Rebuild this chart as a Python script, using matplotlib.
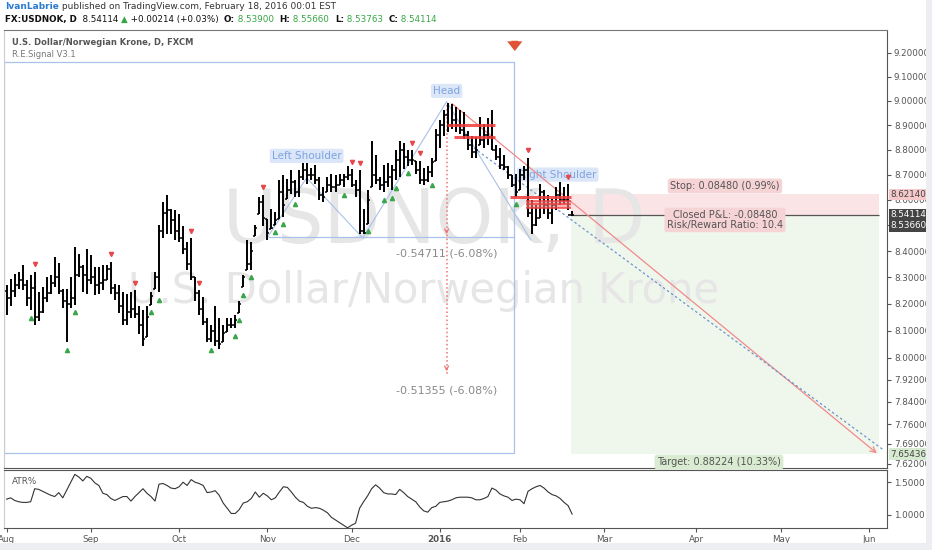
import numpy as np
import pandas as pd
import matplotlib
matplotlib.use('Agg')
import matplotlib.pyplot as plt
from matplotlib.patches import Rectangle
from matplotlib.ticker import FixedLocator, NullLocator, FuncFormatter, NullFormatter

# daily USDNOK bars, Aug 3 2015 .. Feb 18 2016
highs = [8.270, 8.294, 8.313, 8.321, 8.348, 8.290, 8.309, 8.321, 8.243, 8.263,
         8.302, 8.309, 8.379, 8.356, 8.255, 8.255, 8.302, 8.418, 8.391, 8.348,
         8.410, 8.387, 8.340, 8.340, 8.348, 8.348, 8.360, 8.274, 8.270, 8.243,
         8.236, 8.243, 8.251, 8.193, 8.177, 8.193, 8.243, 8.321, 8.503, 8.593,
         8.620, 8.565, 8.562, 8.546, 8.496, 8.437, 8.449, 8.302, 8.251, 8.224,
         8.146, 8.119, 8.193, 8.146, 8.119, 8.146, 8.146, 8.158, 8.212, 8.309,
         8.445, 8.437, 8.503, 8.612, 8.620, 8.523, 8.565, 8.554, 8.678, 8.697,
         8.682, 8.717, 8.678, 8.717, 8.748, 8.748, 8.728, 8.740, 8.690, 8.651,
         8.690, 8.701, 8.697, 8.701, 8.701, 8.736, 8.721, 8.678, 8.717, 8.565,
         8.639, 8.833, 8.779, 8.690, 8.740, 8.748, 8.740, 8.798, 8.837, 8.825,
         8.798, 8.798, 8.756, 8.756, 8.728, 8.736, 8.767, 8.884, 8.922, 8.961,
         8.992, 8.988, 8.973, 8.961, 8.953, 8.876, 8.856, 8.853, 8.934, 8.903,
         8.930, 8.961, 8.818, 8.806, 8.779, 8.736, 8.697, 8.701, 8.721, 8.736,
         8.767, 8.600, 8.581, 8.662, 8.639, 8.620, 8.604, 8.651, 8.670, 8.651,
         8.662, 8.5566]
lows = [8.158, 8.193, 8.224, 8.255, 8.251, 8.193, 8.177, 8.119, 8.135, 8.166,
        8.205, 8.236, 8.263, 8.236, 8.185, 8.057, 8.185, 8.197, 8.302, 8.243,
        8.236, 8.274, 8.232, 8.236, 8.251, 8.290, 8.236, 8.216, 8.166, 8.119,
        8.119, 8.146, 8.146, 8.088, 8.042, 8.077, 8.197, 8.255, 8.243, 8.449,
        8.468, 8.465, 8.445, 8.437, 8.391, 8.329, 8.290, 8.212, 8.158, 8.119,
        8.057, 8.057, 8.042, 8.030, 8.057, 8.096, 8.108, 8.108, 8.166, 8.263,
        8.329, 8.329, 8.457, 8.546, 8.496, 8.445, 8.484, 8.503, 8.523, 8.534,
        8.604, 8.624, 8.612, 8.612, 8.678, 8.662, 8.678, 8.662, 8.600, 8.593,
        8.631, 8.631, 8.631, 8.659, 8.651, 8.678, 8.651, 8.612, 8.468, 8.465,
        8.507, 8.651, 8.662, 8.639, 8.631, 8.651, 8.639, 8.678, 8.690, 8.721,
        8.736, 8.740, 8.701, 8.662, 8.659, 8.670, 8.690, 8.756, 8.806, 8.856,
        8.872, 8.884, 8.872, 8.864, 8.845, 8.798, 8.767, 8.767, 8.818, 8.806,
        8.818, 8.798, 8.759, 8.721, 8.717, 8.682, 8.651, 8.612, 8.639, 8.678,
        8.534, 8.465, 8.496, 8.527, 8.546, 8.523, 8.507, 8.562, 8.581, 8.585,
        8.562, 8.5376]
closes = [8.22, 8.25, 8.27, 8.29, 8.27, 8.22, 8.26, 8.15, 8.17, 8.22,
          8.24, 8.28, 8.30, 8.25, 8.21, 8.20, 8.22, 8.31, 8.34, 8.31,
          8.29, 8.30, 8.27, 8.28, 8.29, 8.33, 8.26, 8.24, 8.19, 8.14,
          8.17, 8.18, 8.16, 8.12, 8.07, 8.15, 8.23, 8.30, 8.48, 8.55,
          8.56, 8.52, 8.48, 8.45, 8.41, 8.35, 8.30, 8.24, 8.18, 8.13,
          8.07, 8.10, 8.06, 8.05, 8.09, 8.12, 8.12, 8.14, 8.20, 8.30,
          8.35, 8.40, 8.49, 8.59, 8.53, 8.47, 8.49, 8.52, 8.63, 8.58,
          8.64, 8.67, 8.63, 8.69, 8.72, 8.70, 8.70, 8.68, 8.62, 8.61,
          8.66, 8.65, 8.66, 8.68, 8.69, 8.70, 8.66, 8.64, 8.48, 8.47,
          8.60, 8.70, 8.68, 8.66, 8.67, 8.69, 8.72, 8.76, 8.80, 8.77,
          8.76, 8.76, 8.72, 8.68, 8.68, 8.71, 8.75, 8.86, 8.90, 8.94,
          8.90, 8.92, 8.90, 8.88, 8.86, 8.82, 8.79, 8.80, 8.84, 8.86,
          8.85, 8.80, 8.77, 8.74, 8.73, 8.70, 8.66, 8.63, 8.70, 8.72,
          8.55, 8.50, 8.53, 8.63, 8.58, 8.55, 8.58, 8.62, 8.60, 8.60,
          8.539, 8.54114]
first_open = 8.25

atr = [1.24, 1.26, 1.22, 1.20, 1.19, 1.19, 1.20, 1.40, 1.39, 1.36,
       1.33, 1.30, 1.28, 1.34, 1.26, 1.38, 1.50, 1.62, 1.58, 1.52,
       1.59, 1.56, 1.49, 1.45, 1.33, 1.31, 1.25, 1.22, 1.25, 1.28,
       1.28, 1.21, 1.28, 1.34, 1.40, 1.33, 1.28, 1.21, 1.47, 1.48,
       1.45, 1.41, 1.40, 1.43, 1.50, 1.45, 1.54, 1.50, 1.48, 1.45,
       1.34, 1.35, 1.37, 1.30, 1.18, 1.10, 1.02, 1.02, 1.08, 1.18,
       1.20, 1.25, 1.35, 1.27, 1.33, 1.29, 1.23, 1.26, 1.35, 1.43,
       1.42, 1.35, 1.27, 1.21, 1.19, 1.13, 1.10, 1.11, 1.10, 1.07,
       1.03, 0.96, 0.92, 0.88, 0.84, 0.80, 0.84, 0.87, 1.10, 1.20,
       1.29, 1.40, 1.46, 1.41, 1.34, 1.32, 1.32, 1.31, 1.39, 1.34,
       1.28, 1.24, 1.20, 1.12, 1.06, 1.04, 1.11, 1.13, 1.19, 1.20,
       1.21, 1.23, 1.26, 1.27, 1.27, 1.27, 1.26, 1.23, 1.23, 1.25,
       1.28, 1.41, 1.38, 1.32, 1.29, 1.27, 1.22, 1.24, 1.23, 1.17,
       1.36, 1.40, 1.43, 1.45, 1.41, 1.35, 1.31, 1.29, 1.25, 1.19,
       1.14, 1.01]

sell_signals = [7, 26, 32, 46, 48, 64, 86, 88, 101, 103, 130, 140]
buy_signals = [6, 15, 17, 36, 38, 51, 57, 58, 59, 61, 67, 69, 72, 84, 90, 94,
               96, 97, 100, 106, 127]

price_ticks = [9.2, 9.1, 9.0, 8.9, 8.8, 8.7, 8.6, 8.5, 8.4, 8.3, 8.2, 8.1, 8.0,
               7.92, 7.84, 7.76, 7.69, 7.62]
atr_ticks = [1.0, 1.5]

# drawings on the chart (bar index, price)
pattern_x = [65.1, 74.8, 88.8, 109.7, 130.7]
pattern_y = [8.455, 8.687, 8.451, 8.996, 8.443]
neckline = 8.455
box_right, box_top, box_bottom = 126.4, 9.161, 7.658
head_x = 109.7
entry, stop, target = 8.54114, 8.62140, 7.65436
pos_left, pos_right = 140.6, 217.5

# calendar: business days without Christmas / New Year
days = pd.bdate_range('2015-08-03', '2016-06-30')
days = days[~days.isin(pd.to_datetime(['2015-12-25', '2016-01-01']))]
n = len(highs)
x = np.arange(n)
opens = np.clip([first_open] + closes[:-1], lows, highs)

month_idx, month_lab = [], []
prev = None
for i, d in enumerate(days):
    if d.month != prev:
        month_idx.append(i)
        month_lab.append('2016' if (d.month == 1) else d.strftime('%b'))
        prev = d.month

W, H = 932, 550
x0, x1 = -0.65, 219.5
fig = plt.figure(figsize=(W / 100, H / 100), dpi=100)
fig.patch.set_facecolor('white')
fig.add_artist(Rectangle((0, 0), 1, 7 / H, transform=fig.transFigure,
                         fc='#eceef1', ec='none'))
fig.add_artist(Rectangle((926 / W, 0), 6 / W, 1, transform=fig.transFigure,
                         fc='#eceef1', ec='none'))

ax = fig.add_axes([4 / W, 1 - 468 / H, 883 / W, 438 / H])
ax.set_yscale('log')
ax.set_xlim(x0, x1)
ax.set_ylim(7.6056, 9.296)

# position tool
ax.add_patch(Rectangle((pos_left, entry), pos_right - pos_left, stop - entry,
                       fc='#fbe4e5', ec='none', zorder=0.2))
ax.add_patch(Rectangle((pos_left, target), pos_right - pos_left, entry - target,
                       fc='#eff6ec', ec='none', zorder=0.2))
ax.hlines(entry, pos_left, pos_right, color='#555555', lw=0.9, zorder=1)
ax.text(179.1, 8.6547, 'Stop: 0.08480 (0.99%)', fontsize=7, color='#555555',
        ha='center', va='center', zorder=6,
        bbox=dict(boxstyle='round,pad=0.25', fc='#f6d3d4', ec='none'))
ax.text(179.1, 8.521, 'Closed P&L: -0.08480\nRisk/Reward Ratio: 10.4', fontsize=7,
        color='#555555', ha='center', va='center', linespacing=0.95, zorder=6,
        bbox=dict(boxstyle='round,pad=0.25', fc='#f6d3d4', ec='none'))
ax.text(177.6, 7.6264, 'Target: 0.88224 (10.33%)', fontsize=7, color='#555555',
        ha='center', va='center', zorder=6, clip_on=False,
        bbox=dict(boxstyle='round,pad=0.25', fc='#d9ecd2', ec='none'))

# watermark (drawn over the position zones, under the bars)
ax.text(0.487, 0.56, 'USDNOK, D', transform=ax.transAxes, fontsize=53,
        color='#e6e6e6', ha='center', va='center', zorder=0.5)
ax.text(0.475, 0.405, 'U.S. Dollar/Norwegian Krone', transform=ax.transAxes,
        fontsize=30, color='#e6e6e6', ha='center', va='center', zorder=0.5)

# head and shoulders drawing
blue = '#a9c1e8'
ax.add_patch(Rectangle((x0, box_bottom), box_right - x0, box_top - box_bottom,
                       fill=False, ec=blue, lw=0.9, zorder=1))
ax.hlines(neckline, pattern_x[0], box_right, color=blue, lw=0.9, zorder=1)
ax.plot(pattern_x, pattern_y, color=blue, lw=0.8, zorder=1)
lab = dict(fontsize=7.5, color='#7ea3e0', ha='center', va='center', zorder=1,
           bbox=dict(boxstyle='round,pad=0.2', fc='#dbe6f8', ec='none'))
ax.text(74.8, 8.775, 'Left Shoulder', **lab)
ax.text(109.7, 9.040, 'Head', **lab)
ax.text(137.4, 8.700, 'Right Shoulder', **lab)

# projection lines
ax.annotate('', xy=(217.5, 7.651), xytext=(110.5, 8.995),
            arrowprops=dict(arrowstyle='->', color='#ef8a8a', lw=0.9), zorder=2)
ax.plot([116.5, 218.7], [8.807, 7.668], color='#6f95cf', lw=0.9, ls=(0, (2, 2)),
        zorder=2)

# measure arrow
red = '#f07272'
ax.plot([head_x, head_x], [8.98, 7.94], color=red, lw=1.1, ls=':', zorder=2)
for yy in (neckline, 7.94):
    ax.annotate('', xy=(head_x, yy), xytext=(head_x, yy * 1.004),
                arrowprops=dict(arrowstyle='->', color=red, lw=0.9,
                                mutation_scale=7), zorder=2)
ax.text(head_x, 8.393, '-0.54711 (-6.08%)', fontsize=8, color='#8a8a8a',
        ha='center', va='center', zorder=3)
ax.text(head_x, 7.879, '-0.51355 (-6.08%)', fontsize=8, color='#8a8a8a',
        ha='center', va='center', zorder=3)

# signal levels
sig = '#f03c3c'
ax.hlines([8.900, 8.851], [109.7, 111.5], [121.7, 121.7], color=sig, lw=2.2,
          alpha=0.85, zorder=5)
ax.hlines(8.611, 125.4, 140.6, color=sig, lw=2.2, alpha=0.85, zorder=5)
ax.add_patch(Rectangle((129.4, 8.5679), 11.2, 8.5955 - 8.5679, fc='#f58080',
                       ec='none', alpha=0.6, zorder=5))
ax.hlines([8.5955, 8.582, 8.5679], 129.4, 140.6, color=sig, lw=1.2,
          alpha=0.85, zorder=5)

# OHLC bars
bc = '#000000'
ax.vlines(x, lows, highs, color=bc, lw=1.4, zorder=4)
ax.hlines(opens, x - 0.5, x, color=bc, lw=1.1, zorder=4)
ax.hlines(closes, x, x + 0.5, color=bc, lw=1.1, zorder=4)

hi = np.array(highs)
lo = np.array(lows)
ax.plot(np.array(sell_signals), hi[sell_signals] * 1.0035, 'v', color='#e8474c',
        ms=3, zorder=4)
ax.plot(np.array(buy_signals), lo[buy_signals] * 0.9965, '^', color='#3aa54a',
        ms=3, zorder=4)

# sell arrow icon at the top
ax.annotate('', xy=(126.7, 9.195), xytext=(126.7, 9.262),
            arrowprops=dict(arrowstyle='simple,head_width=1.1,head_length=0.7,tail_width=0.5',
                            color='#df5437', lw=0), zorder=6)

# title
ax.text(0.009, 0.972, 'U.S. Dollar/Norwegian Krone, D, FXCM', transform=ax.transAxes,
        fontsize=6, color='#555555', fontweight='bold', va='center')
ax.text(0.009, 0.944, 'R.E.Signal V3.1', transform=ax.transAxes,
        fontsize=6, color='#777777', va='center')

# axes styling
ax.yaxis.tick_right()
ax.yaxis.set_major_locator(FixedLocator(price_ticks))
ax.yaxis.set_minor_locator(NullLocator())
ax.yaxis.set_major_formatter(FuncFormatter(lambda v, p: f'{v:.5f}'))
ax.yaxis.set_minor_formatter(NullFormatter())
ax.tick_params(axis='y', labelsize=6.3, colors='#555555', length=3, width=0.8, pad=2)
ax.set_xticks([])
for s in ('right', 'bottom'):
    ax.spines[s].set_color('#555555')
ax.spines['top'].set_color('#777777')
ax.spines['left'].set_color('#cccccc')

# price labels on the axis
for val, yy, fc, tc in [(stop, stop, '#f5c8ca', '#444444'),
                        (entry, entry, '#444444', 'white'),
                        (8.53660, 8.4976, '#444444', 'white'),
                        (target, target, '#d6ebcf', '#444444')]:
    ax.annotate(f'{val:.5f}', xy=(1, yy), xycoords=('axes fraction', 'data'),
                xytext=(2.5, 0), textcoords='offset points', va='center',
                fontsize=6.3, color=tc, annotation_clip=False, zorder=7,
                bbox=dict(boxstyle='square,pad=0.15', fc=fc, ec='none'))

# ATR% pane
ax2 = fig.add_axes([4 / W, 1 - 528 / H, 883 / W, 58 / H])
ax2.plot(x, atr, color='#333333', lw=0.8)
ax2.set_xlim(x0, x1)
ax2.set_ylim(0.797, 1.6875)
ax2.yaxis.tick_right()
ax2.set_yticks(atr_ticks)
ax2.set_yticklabels([f'{v:.4f}' for v in atr_ticks])
ax2.set_xticks(month_idx)
ax2.set_xticklabels(month_lab)
for t in ax2.get_xticklabels():
    if t.get_text() == '2016':
        t.set_fontweight('bold')
ax2.tick_params(labelsize=6.3, colors='#555555', length=3, width=0.8, pad=2)
ax2.text(0.009, 0.8, 'ATR%', transform=ax2.transAxes, fontsize=6.3,
         color='#555555', va='center')
for s in ('right', 'bottom', 'top'):
    ax2.spines[s].set_color('#555555')
ax2.spines['left'].set_color('#cccccc')

# header
hdr = fig.add_axes([0, 1 - 30 / H, 1, 30 / H])
hdr.axis('off')
hdr.set_xlim(0, 1)
hdr.set_ylim(0, 1)


def chain(parts, y, size):
    prev = None
    for txt, color, weight in parts:
        if prev is None:
            prev = hdr.text(5 / W, y, txt, color=color, fontweight=weight,
                            fontsize=size, va='bottom')
        else:
            prev = hdr.annotate(txt, xy=(1, 0), xycoords=prev, xytext=(0, 0),
                                textcoords='offset points', va='bottom',
                                color=color, fontweight=weight, fontsize=size)


green = '#36a745'
chain([('IvanLabrie', '#2a7ad2', 'bold'),
       (' published on TradingView.com, February 18, 2016 00:01 EST', '#333333', 'normal')],
      0.62, 6.5)
chain([('FX:USDNOK, D', '#111111', 'bold'),
       ('  8.54114 ', '#111111', 'normal'),
       ('\u25b2', green, 'normal'),
       (' +0.00214 (+0.03%)  ', '#111111', 'normal'),
       ('O:', '#111111', 'bold'), (' 8.53900  ', green, 'normal'),
       ('H:', '#111111', 'bold'), (' 8.55660  ', green, 'normal'),
       ('L:', '#111111', 'bold'), (' 8.53763  ', green, 'normal'),
       ('C:', '#111111', 'bold'), (' 8.54114', green, 'normal')],
      0.2, 6.3)

fig.savefig('out.png', dpi=100)
